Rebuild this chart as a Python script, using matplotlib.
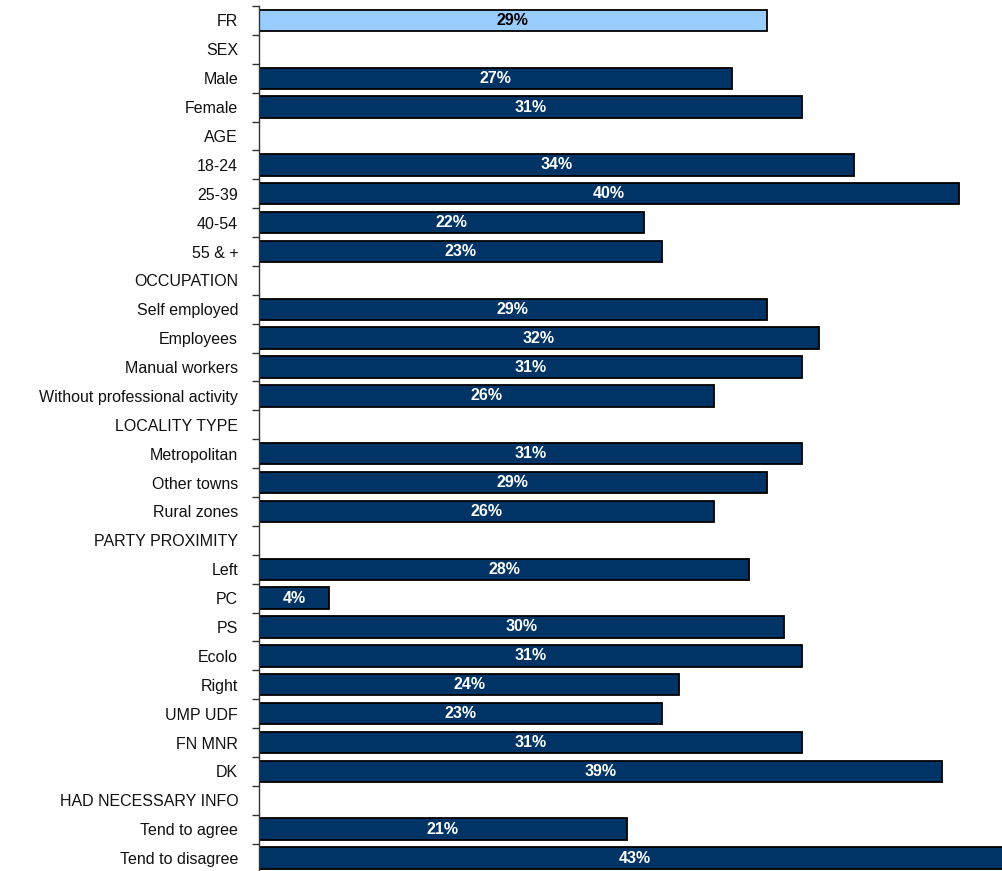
import matplotlib
matplotlib.use("Agg")
from matplotlib import pyplot as plt
import numpy as np

plt.rcParams['font.family'] = ['Liberation Sans', 'DejaVu Sans']

# categories from top to bottom; None means a section header row (no bar)
labels = ["FR", "SEX", "Male", "Female", "AGE", "18-24", "25-39", "40-54", "55 & +",
          "OCCUPATION", "Self employed", "Employees", "Manual workers",
          "Without professional activity", "LOCALITY TYPE", "Metropolitan",
          "Other towns", "Rural zones", "PARTY PROXIMITY", "Left", "PC", "PS",
          "Ecolo", "Right", "UMP UDF", "FN MNR", "DK", "HAD NECESSARY INFO",
          "Tend to agree", "Tend to disagree"]
values = [29, None, 27, 31, None, 34, 40, 22, 23,
          None, 29, 32, 31, 26, None, 31, 29, 26, None,
          28, 4, 30, 31, 24, 23, 31, 39, None, 21, 43]

navy = "#003366"
light = "#99CCFF"

fig = plt.figure(figsize=(10.02, 8.71), dpi=100)
ax = fig.add_axes([259 / 1002, -1.5 / 871, 1 - 259 / 1002, (873.5 - 7) / 871])

n = len(labels)
y = np.arange(n)
for i, v in enumerate(values):
    if v is None:
        continue
    color = light if i == 0 else navy
    ax.barh(i, v, height=0.74, color=color, edgecolor="black", linewidth=1.3)
    ax.text(v / 2, i, f"{v}%", ha="center", va="center", fontsize=11.5,
            fontweight="bold", color="black" if i == 0 else "white")

ax.set_ylim(n - 0.5, -0.5)
ax.set_xlim(0, (1002 - 259) / 17.5)

ax.set_yticks(y)
ax.set_yticklabels(labels, fontsize=11.5, color="#111111")
ax.tick_params(axis="y", which="major", length=0, pad=15)
ax.set_yticks(np.arange(n + 1) - 0.5, minor=True)
ax.tick_params(axis="y", which="minor", length=5, width=1, color="#333333")
ax.set_xticks([])

for s in ["top", "right", "bottom"]:
    ax.spines[s].set_visible(False)
ax.spines["left"].set_color("#333333")
ax.spines["left"].set_linewidth(1)

fig.savefig("out.png", dpi=100)
